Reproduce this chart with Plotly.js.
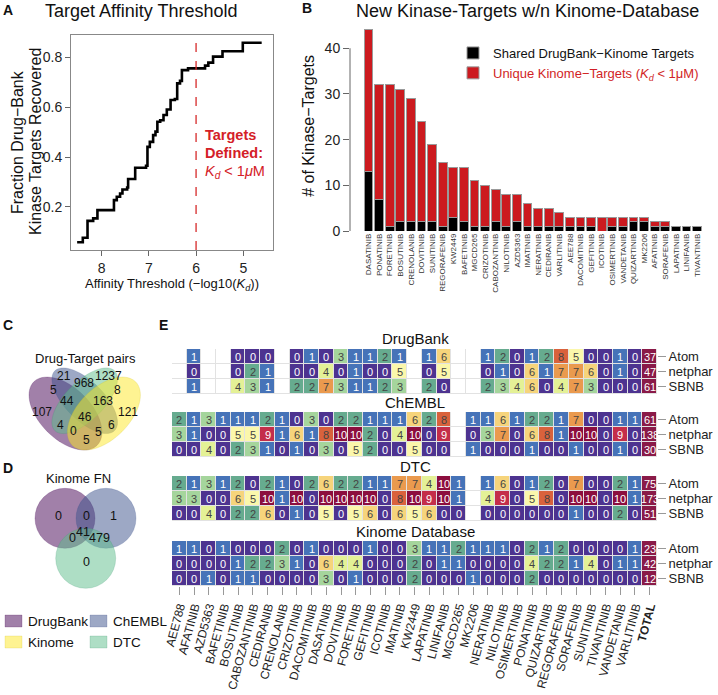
<!DOCTYPE html>
<html><head><meta charset="utf-8">
<script src="https://cdn.plot.ly/plotly-3.0.1.min.js"></script>
<style>html,body{margin:0;padding:0;background:#fff}#chart{width:718px;height:695px}</style>
</head><body><div id="chart"></div>
<script>
// ---------- Panel A data ----------
const affThreshold = [8.52, 8.40, 8.30, 8.18, 8.09, 7.74, 7.68, 7.61, 7.56, 7.46, 7.44, 7.29, 7.06, 7.03, 6.98, 6.91, 6.86, 6.82, 6.76, 6.69, 6.62, 6.54, 6.45, 6.40, 6.34, 6.30, 6.17, 5.81, 5.74, 5.64, 5.44, 5.01, 4.61];
const fracRecovered = [0.058, 0.076, 0.144, 0.154, 0.187, 0.227, 0.241, 0.254, 0.270, 0.278, 0.312, 0.357, 0.365, 0.441, 0.461, 0.488, 0.502, 0.542, 0.548, 0.569, 0.591, 0.629, 0.633, 0.696, 0.706, 0.749, 0.756, 0.767, 0.779, 0.803, 0.825, 0.859, 0.859];

// ---------- Panel B data ----------
const barDrugs = ['DASATINIB','PONATINIB','FORETINIB','BOSUTINIB','CRENOLANIB','DOVITINIB','SUNITINIB','REGORAFENIB','KW2449','BAFETINIB','MGCD265','CRIZOTINIB','CABOZANTINIB','NILOTINIB','AZD5363','IMATINIB','NERATINIB','CEDIRANIB','VARLITINIB','AEE788','DACOMITINIB','GEFITINIB','ICOTINIB','OSIMERTINIB','VANDETANIB','QUIZARTINIB','MK2206','AFATINIB','SORAFENIB','LAPATINIB','LINIFANIB','TIVANTINIB'];
const sharedTargets = [13,7,1,2,2,2,2,1,3,2,1,1,2,1,2,1,1,1,1,1,1,1,0,1,1,2,2,1,1,1,1,1];
const uniqueTargets = [31,25,31,29,27,22,17,14,11,12,10,9,7,7,6,5,4,4,3,2,2,2,3,2,2,1,1,1,1,0,0,0];

// ---------- Panel C / D data ----------
const vennPairsLabels = ['21','968','1237','5','8','44','163','107','46','121','4','6','0','5','5'];
const vennFNLabels = ['0','0','1','0','41','479','0'];
const vennSets = ['DrugBank','ChEMBL','Kinome','DTC'];

// ---------- Panel E data ----------
const heatCols = ['AEE788','AFATINIB','AZD5363','BAFETINIB','BOSUTINIB','CABOZANTINIB','CEDIRANIB','CRENOLANIB','CRIZOTINIB','DACOMITINIB','DASATINIB','DOVITINIB','FORETINIB','GEFITINIB','ICOTINIB','IMATINIB','KW2449','LAPATINIB','LINIFANIB','MGCD265','MK2206','NERATINIB','NILOTINIB','OSIMERTINIB','PONATINIB','QUIZARTINIB','REGORAFENIB','SORAFENIB','SUNITINIB','TIVANTINIB','VANDETANIB','VARLITINIB','TOTAL'];
const methods = ['Atom','netphar','SBNB'];
const _ = null;
const dbAtom  = [_,1,_,_,0,0,0,_,0,1,0,3,1,1,2,1,_,1,6,_,_,1,2,0,1,2,8,5,0,0,1,0,37];
const dbNet   = [_,0,_,_,0,2,1,_,0,0,4,0,1,0,0,5,_,0,5,_,_,0,1,0,6,1,7,7,6,0,1,0,47];
const dbSBNB  = [_,1,_,_,4,3,1,_,2,2,7,3,1,1,2,3,_,2,0,_,_,2,3,4,6,0,4,7,3,0,0,0,61];
const chAtom  = [2,1,3,1,1,1,2,1,0,3,0,2,2,1,1,1,6,2,8,_,1,1,6,1,2,2,1,7,0,0,1,1,61];
const chNet   = [3,1,0,0,5,5,9,1,6,1,8,10,10,2,0,4,10,0,9,_,0,3,7,0,6,8,1,10,10,0,9,0,138];
const chSBNB  = [0,0,4,0,2,3,1,0,1,0,3,0,5,2,0,0,5,0,0,_,1,0,0,0,1,0,0,1,0,0,1,0,30];
const dtcAtom = [2,1,3,1,2,0,2,1,0,2,6,2,2,1,1,7,7,4,10,1,_,1,6,0,1,2,0,7,0,0,2,1,75];
const dtcNet  = [3,3,0,0,6,5,10,1,10,0,10,10,10,10,0,8,10,9,10,1,_,4,9,0,5,8,0,10,10,0,10,1,173];
const dtcSBNB = [0,0,4,0,2,2,6,0,1,0,5,0,5,6,0,6,5,6,0,0,_,0,0,0,0,0,0,1,0,0,2,0,51];
const kinAtom = [1,1,0,1,0,0,0,2,0,1,0,0,0,1,0,0,3,1,1,2,1,1,1,0,2,1,2,0,0,0,0,1,23];
const kinNet  = [0,0,0,0,1,2,2,3,1,0,6,4,4,0,0,0,2,0,1,1,0,0,0,0,4,2,2,1,4,0,1,1,42];
const kinSBNB = [0,0,1,0,1,1,0,0,0,0,3,0,1,0,0,0,2,0,0,0,1,0,0,0,2,0,0,0,0,0,0,0,12];

// ---------- helpers ----------
const W = 718, H = 695;
const px = x => x / W, py = y => 1 - y / H;
const F = 'Liberation Sans, Arial, Helvetica, sans-serif';
const shapes = [], annotations = [];
function ann(x, y, text, size, extra) {
  annotations.push(Object.assign({xref:'paper', yref:'paper', x:px(x), y:py(y), text:text, showarrow:false,
    font:{family:F, size:size, color:'#111'}, xanchor:'center', yanchor:'middle'}, extra || {}));
}

// ---------- traces ----------
const traces = [];
traces.push({type:'scatter', mode:'lines', x:affThreshold, y:fracRecovered, xaxis:'x', yaxis:'y',
  line:{shape:'hv', color:'#000', width:2.6}, showlegend:false, hoverinfo:'skip'});

traces.push({type:'bar', x:barDrugs, y:sharedTargets, xaxis:'x2', yaxis:'y2', name:'Shared DrugBank−Kinome Targets',
  marker:{color:'#000000', line:{color:'#9a9a9a', width:1}}});
traces.push({type:'bar', x:barDrugs, y:uniqueTargets, xaxis:'x2', yaxis:'y2',
  name:'<span style="color:#d11f26">Unique Kinome−Targets (<i>K<sub>d</sub></i> &lt; 1μM)</span>',
  marker:{color:'#cc1a1f', line:{color:'#9a9a9a', width:1}}});

// heatmap colours: -1 blank, 0..10 counts, 11 total
const levelColors = ['#ffffff','#4d3390','#4673b8','#66ab8f','#a5d59c','#e4f196','#fbf7ab','#f6d47b','#ea9a4e','#d9623c','#c42e4a','#8c0e3e','#8a1a48'];
const nL = levelColors.length;
const cscale = [];
levelColors.forEach((c, k) => {
  cscale.push([Math.max(0, (k - 0.5) / (nL - 1)), c]);
  cscale.push([Math.min(1, (k + 0.5) / (nL - 1)), c]);
});
cscale[0][0] = 0; cscale[cscale.length - 1][0] = 1;

const blocks = [
  {name:'DrugBank', rows:[dbAtom, dbNet, dbSBNB], top:349, ax:'y3'},
  {name:'ChEMBL', rows:[chAtom, chNet, chSBNB], top:412, ax:'y4'},
  {name:'DTC', rows:[dtcAtom, dtcNet, dtcSBNB], top:476, ax:'y5'},
  {name:'Kinome Database', rows:[kinAtom, kinNet, kinSBNB], top:541, ax:'y6'}
];
const rowH = 15, heatL = 172, heatR = 657;
blocks.forEach(b => {
  const z = b.rows.map(r => r.map((v, i) => v === null ? -1 : (i === r.length - 1 ? 11 : Math.min(v, 10))));
  const t = b.rows.map(r => r.map(v => v === null ? '' : String(v)));
  traces.push({type:'heatmap', x:heatCols, y:methods, z:z, text:t, texttemplate:'%{text}',
    textfont:{family:F, size:11}, colorscale:cscale, zmin:-1, zmax:11, showscale:false,
    xgap:1, ygap:1, xaxis:'x3', yaxis:b.ax, hoverinfo:'skip'});
  shapes.push({type:'rect', xref:'paper', yref:'paper', layer:'below',
    x0:px(heatL), x1:px(heatR), y0:py(b.top + 3 * rowH), y1:py(b.top),
    fillcolor:'#e2e2e2', line:{width:0}});
  ann(415, b.top - 10, b.name, 15);
});

// ---------- Panel A decorations ----------
shapes.push({type:'line', xref:'x', yref:'y domain', x0:6, x1:6, y0:0, y1:1,
  line:{color:'#d62a2a', width:1.3, dash:'dash'}});
ann(203, 135, '<b>Targets</b>', 14.5, {xanchor:'left', font:{family:F, size:14.5, color:'#d42027'}});
ann(203, 153, '<b>Defined:</b>', 14.5, {xanchor:'left', font:{family:F, size:14.5, color:'#d42027'}});
ann(203, 172, '<i>K<sub>d</sub></i> &lt; 1<i>μ</i>M', 14.5, {xanchor:'left', font:{family:F, size:14.5, color:'#d42027'}});
// y-axis title of panel A (two lines)
ann(17, 142, 'Fraction Drug−Bank', 16, {textangle:-90});
ann(35, 142, 'Kinase Targets Recovered', 16, {textangle:-90});

// ---------- Panel B axis line ----------
shapes.push({type:'line', xref:'paper', yref:'y2', x0:px(350), x1:px(350), y0:0, y1:40,
  line:{color:'#666', width:1}});

// ---------- Panel titles and letters ----------
ann(141, 11, 'Target Affinity Threshold', 18);
ann(527, 11, 'New Kinase-Targets w/n Kinome-Database', 18);
ann(8, 10, '<b>A</b>', 14);
ann(307, 8, '<b>B</b>', 14);
ann(8, 325, '<b>C</b>', 14);
ann(163, 325, '<b>E</b>', 14);
ann(8, 468, '<b>D</b>', 14);

// ---------- Panel C: four-set Venn ----------
const vcol = {DrugBank:'rgba(68,1,84,0.5)', ChEMBL:'rgba(59,82,139,0.5)', Kinome:'rgba(253,231,37,0.5)', DTC:'rgba(94,190,140,0.5)'};
const vline = {DrugBank:'rgba(68,1,84,0.35)', ChEMBL:'rgba(59,82,139,0.35)', Kinome:'rgba(200,190,30,0.35)', DTC:'rgba(60,150,110,0.35)'};
const U = u => 20.7 + 128 * u, V = v => 473.7 - 128 * v;
function ellipsePath(cx, cy, a, b, deg) {
  const th = deg * Math.PI / 180; let d = '';
  for (let k = 0; k <= 72; k++) {
    const t = 2 * Math.PI * k / 72;
    const x = cx + a * Math.cos(t) * Math.cos(th) - b * Math.sin(t) * Math.sin(th);
    const y = cy + a * Math.cos(t) * Math.sin(th) + b * Math.sin(t) * Math.cos(th);
    d += (k ? 'L' : 'M') + px(x).toFixed(5) + ',' + py(y).toFixed(5);
  }
  return d + 'Z';
}
[['DrugBank', 0.35, 0.47, 0.35, 0.20, 45], ['ChEMBL', 0.50, 0.57, 0.33, 0.15, 45],
 ['DTC', 0.50, 0.57, 0.33, 0.15, -45], ['Kinome', 0.65, 0.47, 0.35, 0.20, -45]].forEach(e => {
  shapes.push({type:'path', xref:'paper', yref:'paper', path:ellipsePath(U(e[1]), V(e[2]), 128 * e[3], 128 * e[4], e[5]),
    fillcolor:vcol[e[0]], line:{color:vline[e[0]], width:0.6}});
});
ann(85, 358, 'Drug-Target pairs', 13);
const vennPairsPos = [[64,376],[84,383],[108,376],[53,390],[118,390],[67,401],[103,401],[42,412],[85,417],[128,412],[60,425],[111,425],[73,431],[98,432],[86,440]];
vennPairsLabels.forEach((lab, i) => ann(vennPairsPos[i][0], vennPairsPos[i][1], lab, 12));

// ---------- Panel D: three-set Venn ----------
ann(78, 478, 'Kinome FN', 13);
[['DrugBank', 65, 518.3], ['ChEMBL', 106, 518.3], ['DTC', 85.7, 558.3]].forEach(c => {
  shapes.push({type:'circle', xref:'paper', yref:'paper', x0:px(c[1] - 30), x1:px(c[1] + 30), y0:py(c[2] + 30), y1:py(c[2] - 30),
    fillcolor:vcol[c[0]], line:{color:vline[c[0]], width:0.6}});
});
const vennFNPos = [[58,516],[86,516],[113,516],[72,538],[83,532],[99,538],[86,562]];
vennFNLabels.forEach((lab, i) => ann(vennFNPos[i][0], vennFNPos[i][1], lab, 12.5));

// legend for Venn sets
const swPos = {DrugBank:[5,615], ChEMBL:[90,615], Kinome:[5,636], DTC:[90,636]};
vennSets.forEach(s => {
  const p = swPos[s];
  shapes.push({type:'rect', xref:'paper', yref:'paper', x0:px(p[0]), x1:px(p[0] + 17), y0:py(p[1] + 12), y1:py(p[1]),
    fillcolor:vcol[s], line:{color:vline[s], width:0.6}});
  ann(p[0] + 21, p[1] + 6.5, s, 13.5, {xanchor:'left'});
});

// ---------- layout ----------
const axisCommon = {showgrid:false, zeroline:false};
const heatY = (top) => Object.assign({}, axisCommon, {domain:[py(top + 3 * rowH), py(top)], anchor:'x3', side:'right',
  type:'category', autorange:'reversed', tickmode:'array', tickvals:methods, ticktext:methods,
  ticks:'outside', ticklen:8, tickcolor:'#999', showline:false,
  tickfont:{family:F, size:13, color:'#222'}});

const layout = {
  width:W, height:H, margin:{l:0, r:0, t:0, b:0}, paper_bgcolor:'#fff', plot_bgcolor:'rgba(0,0,0,0)',
  font:{family:F, color:'#222'}, barmode:'stack', bargap:0.165, showlegend:true,
  legend:{x:px(453), y:py(38), xanchor:'left', yanchor:'top', font:{family:F, size:13, color:'#111'},
    bgcolor:'rgba(0,0,0,0)', tracegroupgap:0, traceorder:'normal'},
  xaxis:Object.assign({}, axisCommon, {domain:[px(71), px(273)], range:[8.65, 4.37], anchor:'y',
    tickvals:[8,7,6,5], ticks:'outside', ticklen:5, tickcolor:'#666', showline:true, mirror:true,
    linecolor:'#888', linewidth:1, tickfont:{family:F, size:14, color:'#222'},
    title:{text:'Affinity Threshold (−log10(<i>K<sub>d</sub></i>))', font:{family:F, size:13, color:'#111'}, standoff:3}}),
  yaxis:Object.assign({}, axisCommon, {domain:[py(250), py(35)], range:[0.027, 0.89], anchor:'x',
    tickvals:[0.2,0.4,0.6,0.8], ticks:'outside', ticklen:5, tickcolor:'#666', showline:true, mirror:true,
    linecolor:'#888', linewidth:1, tickfont:{family:F, size:14, color:'#222'}}),
  xaxis2:Object.assign({}, axisCommon, {domain:[px(350), px(712)], anchor:'y2', type:'category',
    categoryorder:'array', categoryarray:barDrugs, range:[-1.745, 32.4], tickangle:-90, ticks:'', showline:false,
    tickfont:{family:F, size:8, color:'#333'}}),
  yaxis2:Object.assign({}, axisCommon, {domain:[py(231), py(20.8)], anchor:'x2', range:[0, 46],
    tickvals:[0,10,20,30,40], ticks:'outside', ticklen:6, tickcolor:'#666', showline:false,
    tickfont:{family:F, size:14, color:'#222'},
    title:{text:'# of Kinase−Targets', font:{family:F, size:16, color:'#111'}, standoff:6}}),
  xaxis3:Object.assign({}, axisCommon, {domain:[px(heatL), px(heatR)], anchor:'y6', type:'category',
    tickmode:'array', tickvals:heatCols, ticktext:heatCols.map(c => c === 'TOTAL' ? '<b>TOTAL</b>' : c),
    tickangle:-75, ticks:'outside', ticklen:8, tickcolor:'#999', showline:false,
    tickfont:{family:F, size:12, color:'#222'}}),
  yaxis3:heatY(349), yaxis4:heatY(412), yaxis5:heatY(476), yaxis6:heatY(541),
  shapes:shapes, annotations:annotations
};

Plotly.newPlot('chart', traces, layout, {staticPlot:true, displayModeBar:false});
</script></body></html>
